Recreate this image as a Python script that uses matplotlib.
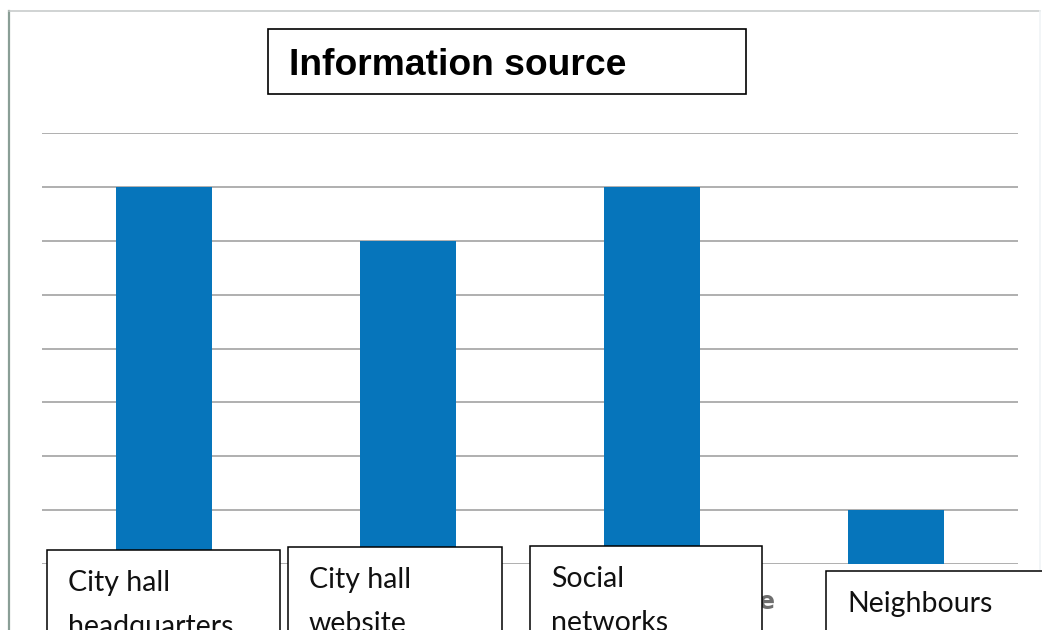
import matplotlib
matplotlib.use("Agg")
import matplotlib.pyplot as plt
from matplotlib.patches import Rectangle

# Data
categories = ["City hall\nheadquarters", "City hall\nwebsite", "Social\nnetworks", "Neighbours"]
values = [7, 6, 7, 1]
title = "Information source"

W, H = 1042, 630
fig = plt.figure(figsize=(W / 100, H / 100), dpi=100)
fig.patch.set_facecolor("white")


def fx(px):
    return px / W


def fy(py):
    return 1 - py / H


# Scanned page frame (left and top edges)
fig.add_artist(plt.Line2D([fx(9), fx(9)], [fy(11), fy(640)], transform=fig.transFigure,
                          color="#8a9e96", lw=1.6))
fig.add_artist(plt.Line2D([fx(9), fx(1040)], [fy(11), fy(11)], transform=fig.transFigure,
                          color="#c4c8c8", lw=1.1))
fig.add_artist(plt.Line2D([fx(1040), fx(1040)], [fy(11), fy(640)], transform=fig.transFigure,
                          color="#f0f4f6", lw=1.2))

# Chart area
ax = fig.add_axes([fx(42), fy(564), fx(1018) - fx(42), fy(133) - fy(564)])
x = range(len(values))
ax.bar(x, values, width=0.395, color="#0675bb", zorder=3)
ax.set_xlim(-0.5, len(values) - 0.5)
ax.set_ylim(0, 8)
for v in range(0, 9):
    ax.axhline(v, color="#9a9a9a", lw=1.3, alpha=0.85, zorder=1)
for s in ax.spines.values():
    s.set_visible(False)
ax.set_xticks([])
ax.set_yticks([])
ax.patch.set_alpha(0)

# Fragment of the original axis label peeking out from behind a box
fig.text(fx(759), fy(609), "e", fontsize=17, fontweight="bold", color="#6e6e6e",
         family="DejaVu Sans", va="baseline", ha="left", zorder=1)

# Title box
fig.add_artist(Rectangle((fx(268), fy(94)), fx(746) - fx(268), fy(29) - fy(94),
                         transform=fig.transFigure, facecolor="white",
                         edgecolor="black", lw=1.2, zorder=5))
fig.text(fx(289), fy(75), title, fontsize=26.8, fontweight="bold",
         family="Liberation Sans", va="baseline", ha="left", zorder=6)

# Category label boxes
box_left = [47, 288, 530, 826]
box_right = [280, 502, 762, 1050]
box_top = [550, 547, 546, 571]
for label, l, r, t in zip(categories, box_left, box_right, box_top):
    fig.add_artist(Rectangle((fx(l), fy(660)), fx(r) - fx(l), fy(t) - fy(660),
                             transform=fig.transFigure, facecolor="white",
                             edgecolor="black", lw=1.1, zorder=5))
    for i, line in enumerate(label.split("\n")):
        fig.text(fx(l + 21), fy(t + 41 + 44 * i), line, fontsize=20.5,
                 family="Lato", va="baseline", ha="left", color="#111111", zorder=6)

fig.savefig("out.png", dpi=100, facecolor="white")
